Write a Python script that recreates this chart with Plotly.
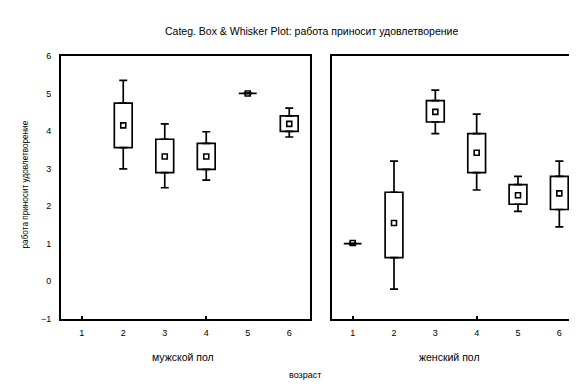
import plotly.graph_objects as go

ages = [1, 2, 3, 4, 5, 6]
tick_labels = ["1", "2", "3", "4", "5", "6"]
y_ticks = [-1, 0, 1, 2, 3, 4, 5, 6]

# male panel (mean, mean±SE box, mean±SD whiskers)
male_mean = [None, 4.15, 3.32, 3.32, 5.0, 4.19]
male_box_lo = [None, 3.56, 2.89, 2.98, 5.0, 3.99]
male_box_hi = [None, 4.74, 3.78, 3.67, 5.0, 4.40]
male_wh_lo = [None, 2.99, 2.49, 2.69, 5.0, 3.84]
male_wh_hi = [None, 5.35, 4.19, 3.98, 5.0, 4.61]

# female panel
female_mean = [1.02, 1.55, 4.51, 3.42, 2.29, 2.34]
female_box_lo = [1.0, 0.63, 4.24, 2.89, 2.05, 1.91]
female_box_hi = [1.0, 2.37, 4.81, 3.93, 2.57, 2.79]
female_wh_lo = [1.0, -0.21, 3.93, 2.43, 1.86, 1.45]
female_wh_hi = [1.0, 3.20, 5.09, 4.45, 2.79, 3.20]

title = "Categ. Box & Whisker Plot: работа приносит удовлетворение"
y_title = "работа приносит удовлетворение"
panel_titles = ["мужской пол", "женский пол"]
x_title = "возраст"

FONT = "Liberation Sans"
fig = go.Figure()


def add_panel(mean, blo, bhi, wlo, whi, xa, ya):
    idx = [i for i, m in enumerate(mean) if m is not None]
    xs = [ages[i] for i in idx]
    fig.add_trace(go.Bar(
        x=xs, base=[blo[i] for i in idx], y=[bhi[i] - blo[i] for i in idx],
        width=0.43, marker=dict(color="white", line=dict(color="black", width=1.7)),
        xaxis=xa, yaxis=ya, showlegend=False, hoverinfo="skip"))
    fig.add_trace(go.Scatter(
        x=xs, y=[bhi[i] for i in idx], mode="markers", marker=dict(size=1, color="rgba(0,0,0,0)"),
        error_y=dict(type="data", symmetric=False, array=[whi[i] - bhi[i] for i in idx],
                     arrayminus=[0] * len(idx), color="black", thickness=1.7, width=4),
        xaxis=xa, yaxis=ya, showlegend=False, hoverinfo="skip"))
    fig.add_trace(go.Scatter(
        x=xs, y=[blo[i] for i in idx], mode="markers", marker=dict(size=1, color="rgba(0,0,0,0)"),
        error_y=dict(type="data", symmetric=False, array=[0] * len(idx),
                     arrayminus=[blo[i] - wlo[i] for i in idx], color="black", thickness=1.7, width=4),
        xaxis=xa, yaxis=ya, showlegend=False, hoverinfo="skip"))
    fig.add_trace(go.Scatter(
        x=xs, y=[mean[i] for i in idx], mode="markers",
        marker=dict(symbol="square-open", size=5, color="black", line=dict(width=1.6)),
        xaxis=xa, yaxis=ya, showlegend=False))


add_panel(male_mean, male_box_lo, male_box_hi, male_wh_lo, male_wh_hi, "x", "y")
add_panel(female_mean, female_box_lo, female_box_hi, female_wh_lo, female_wh_hi, "x2", "y2")

W, H = 577, 385
dl = [53 / W, 302 / W]
dr = [324 / W, 572 / W]
dv = [1 - 314 / H, 1 - 44 / H]
tickfont = dict(family=FONT, size=9, color="black")

xbase = dict(range=[0.5, 6.5], tickvals=ages, ticktext=tick_labels, ticks="",
             showline=True, linecolor="black", linewidth=1.7, mirror=True,
             showgrid=False, zeroline=False, tickfont=tickfont, ticklabelstandoff=5,
             minor=dict(tickvals=[1, 4], ticks="inside", ticklen=3, tickcolor="black", tickwidth=1.5))
xtop = dict(range=[0.5, 6.5], tickvals=ages, ticks="inside", ticklen=3, tickcolor="black",
            tickwidth=1.5, showticklabels=False, showline=False, showgrid=False,
            zeroline=False, side="top")
ybase = dict(range=[-1, 6], tickvals=y_ticks, ticks="", domain=dv,
             showline=True, linecolor="black", linewidth=1.7, mirror=True,
             showgrid=False, zeroline=False, tickfont=tickfont, ticklabelstandoff=6)
yright = dict(range=[-1, 6], tickvals=y_ticks[1:-1], ticks="inside", ticklen=3, tickcolor="black",
              tickwidth=1.5, showticklabels=False, showline=False, showgrid=False,
              zeroline=False, side="right")

fig.update_layout(
    width=W, height=H, margin=dict(l=0, r=0, t=0, b=0),
    paper_bgcolor="white", plot_bgcolor="white", barmode="overlay",
    font=dict(family=FONT, size=8, color="black"),
    xaxis=dict(domain=dl, anchor="y", **xbase),
    xaxis2=dict(domain=dr, anchor="y2", **xbase),
    xaxis3=dict(overlaying="x", anchor="y", **xtop),
    xaxis4=dict(overlaying="x2", anchor="y2", **xtop),
    yaxis=dict(anchor="x", **ybase),
    yaxis2=dict(anchor="x2", showticklabels=False, **ybase),
    yaxis3=dict(overlaying="y", anchor="x", **yright),
    yaxis4=dict(overlaying="y2", anchor="x2", **yright),
    showlegend=False,
)

ann = [
    dict(text=title, x=303 / W, y=1 - 18 / H, font=dict(size=10.5)),
    dict(text=y_title, x=17 / W, y=1 - 176 / H, textangle=-90, font=dict(size=8.2)),
    dict(text=panel_titles[0], x=(dl[0] + dl[1]) / 2 - 3 / W, y=1 - 353 / H, font=dict(size=10.5)),
    dict(text=panel_titles[1], x=(dr[0] + dr[1]) / 2 - 7 / W, y=1 - 353 / H, font=dict(size=10.5)),
    dict(text=x_title, x=297 / W, y=1 - 372 / H, font=dict(size=9)),
]
for a in ann:
    fig.add_annotation(xref="paper", yref="paper", showarrow=False,
                       xanchor="center", yanchor="middle", **a)

fig.write_html("out.html")
